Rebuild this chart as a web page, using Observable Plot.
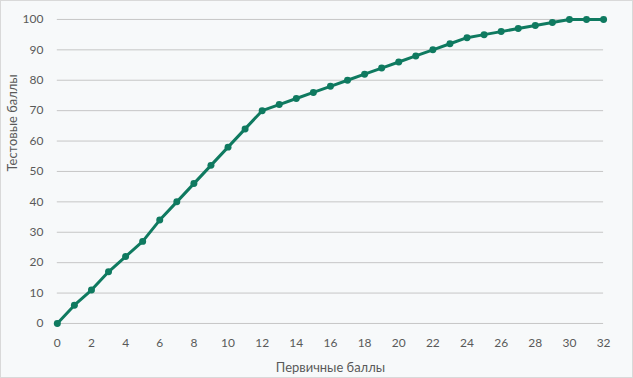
<!DOCTYPE html>
<html>
<head>
<meta charset="utf-8">
<script src="https://cdn.jsdelivr.net/npm/d3@7"></script>
<script src="https://cdn.jsdelivr.net/npm/@observablehq/plot@0.6"></script>
<style>
  html, body { margin: 0; padding: 0; background: #ffffff; }
  #chart { width: 631px; height: 376px; border: 1px solid #d9d9d9; background: #f7f9fa; position: relative; overflow: hidden; }
  #chart svg { position: absolute; left: -1px; top: -1px; }
</style>
</head>
<body>
<div id="chart"></div>
<script>
const primaryScores = [0,1,2,3,4,5,6,7,8,9,10,11,12,13,14,15,16,17,18,19,20,21,22,23,24,25,26,27,28,29,30,31,32];
const testScores = [0,6,11,17,22,27,34,40,46,52,58,64,70,72,74,76,78,80,82,84,86,88,90,92,94,95,96,97,98,99,100,100,100];
const xTicks = [0,2,4,6,8,10,12,14,16,18,20,22,24,26,28,30,32];
const yTicks = [0,10,20,30,40,50,60,70,80,90,100];
const xTitle = "Первичные баллы";
const yTitle = "Тестовые баллы";

const data = primaryScores.map((x, i) => ({x, y: testScores[i]}));
const lineColor = "#0f7a60";
const textColor = "#595959";

const chart = Plot.plot({
  width: 633,
  height: 378,
  marginLeft: 57,
  marginRight: 28,
  marginTop: 19,
  marginBottom: 54,
  style: {background: "transparent", fontFamily: "Lato, 'Noto Sans', sans-serif", fontSize: "12px", color: textColor},
  x: {domain: [0, 32]},
  y: {domain: [0, 100]},
  marks: [
    Plot.gridY(yTicks, {stroke: "#c6c6c6", strokeOpacity: 1, strokeWidth: 1}),
    Plot.axisY(yTicks, {tickSize: 0, tickPadding: 14, label: null, fontSize: 12}),
    Plot.axisX(xTicks, {tickSize: 0, tickPadding: 15, label: null, fontSize: 12}),
    Plot.text([yTitle], {frameAnchor: "left", rotate: -90, dx: -45, fill: textColor, fontSize: 13}),
    Plot.text([xTitle], {frameAnchor: "bottom", dy: 49, fill: textColor, fontSize: 13}),
    Plot.line(data, {x: "x", y: "y", stroke: lineColor, strokeWidth: 3}),
    Plot.dot(data, {x: "x", y: "y", fill: lineColor, r: 3.5})
  ]
});
document.getElementById("chart").appendChild(chart);
</script>
</body>
</html>
